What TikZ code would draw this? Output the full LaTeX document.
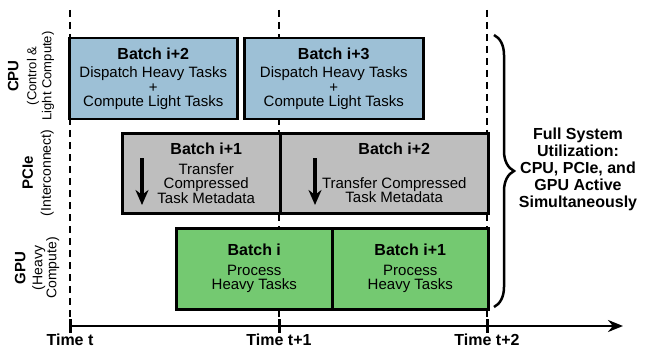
\documentclass[tikz,border=0pt]{standalone}
\usepackage{fontspec}
\setmainfont{Liberation Sans}
\usetikzlibrary{arrows.meta, positioning, decorations.pathreplacing}

\definecolor{cpublue}{RGB}{157,192,214}
\definecolor{pciegray}{RGB}{190,190,190}
\definecolor{gpugreen}{RGB}{116,201,113}

\newcommand{\batch}[1]{{\bfseries\fontsize{16}{18}\selectfont Batch #1}}

\begin{document}
\begin{tikzpicture}[x=1pt, y=-1pt]
	\tikzset{
		box/.style={draw, line width=2.5pt, anchor=north west, align=center, font=\fontsize{15}{14.5}\selectfont},
		boxtext/.style={align=center, font=\fontsize{15}{14.5}\selectfont},
		cpu/.style={box, fill=cpublue, minimum height=81pt},
		pcie/.style={box, fill=pciegray, minimum height=80pt},
		gpu/.style={box, fill=gpugreen, minimum height=81pt},
		guide/.style={line width=2pt, dash pattern=on 7pt off 5pt},
		tickmark/.style={line width=3pt},
		down/.style={-{Stealth[length=15pt, width=13pt]}, line width=3.2pt},
		rowname/.style={rotate=90, align=center},
		timelabel/.style={font=\bfseries\fontsize{16}{16}\selectfont}
	}
	\useasboundingbox (0,0) rectangle (650,350);

	% time grid and axis
	\foreach \x/\t [count=\i from 0] in {70/t, 279/t+1, 487/t+2} {
		\coordinate (top\i) at (\x,10);
		\coordinate (tick\i) at (\x,326);
		\draw[guide] (top\i) -- (tick\i);
		\draw[tickmark] ([yshift=7pt]tick\i) -- ([yshift=-7pt]tick\i);
		\node[timelabel, below=4.5pt of tick\i] (time\i) {Time \t};
	}
	\coordinate (axisend) at (623,326);
	\draw[-{Stealth[length=15pt, width=12pt]}, line width=2.7pt] (tick0) -- (axisend);

	% rows
	\node[cpu, minimum width=168pt] (cpuA) at (68,37) {\batch{i+2}\\[4pt]Dispatch Heavy Tasks\\+\\Compute Light Tasks};
	\node[cpu, minimum width=179pt] (cpuB) at (243,37) {\batch{i+3}\\[4pt]Dispatch Heavy Tasks\\+\\Compute Light Tasks};

	\node[pcie, minimum width=158pt] (pcieA) at (121,132) {};
	\node[pcie, minimum width=208pt] (pcieB) at (279,132) {};
	\node[boxtext] (pcieAtext) at ([xshift=5pt]pcieA.center) {\batch{i+1}\\[5pt]Transfer\\Compressed\\Task Metadata};
	\node[boxtext] (pcieBtext) at ([xshift=10pt]pcieB.center) {\batch{i+2}\\[19pt]Transfer Compressed\\Task Metadata};
	\draw[down] ([xshift=21pt, yshift=-26pt]pcieA.north west) -- ++(0,47);
	\draw[down] ([xshift=36pt, yshift=-26pt]pcieB.north west) -- ++(0,47);

	\node[gpu, minimum width=156pt] (gpuA) at (175,227) {\batch{i}\\[5pt]Process\\Heavy Tasks};
	\node[gpu, minimum width=156pt] (gpuB) at (331,227) {\batch{i+1}\\[5pt]Process\\Heavy Tasks};

	% row names
	\node[rowname, font=\fontsize{13}{15}\selectfont] (cpuname) at (31,76) {{\bfseries\fontsize{15}{15}\selectfont CPU}\\[3pt](Control \&\\Light Compute)};
	\node[rowname, font=\fontsize{14}{15}\selectfont] (pciename) at (38,173) {{\bfseries\fontsize{15}{15}\selectfont PCIe}\\[3pt](Interconnect)};
	\node[rowname, font=\fontsize{14}{14}\selectfont] (gpuname) at (37,268) {{\bfseries\fontsize{15}{15}\selectfont GPU}\\[3pt](Heavy\\Compute)};

	% brace and summary
	\coordinate (bracetop) at (494,35);
	\coordinate (bracebot) at (494,307);
	\draw[line width=2.5pt, decorate, decoration={brace, amplitude=20pt}] (bracetop) -- (bracebot);
	\node[align=center, font=\bfseries\fontsize{16}{17}\selectfont] (util) at (578,169) {Full System\\Utilization:\\CPU, PCIe, and\\GPU Active\\Simultaneously};
\end{tikzpicture}
\end{document}
